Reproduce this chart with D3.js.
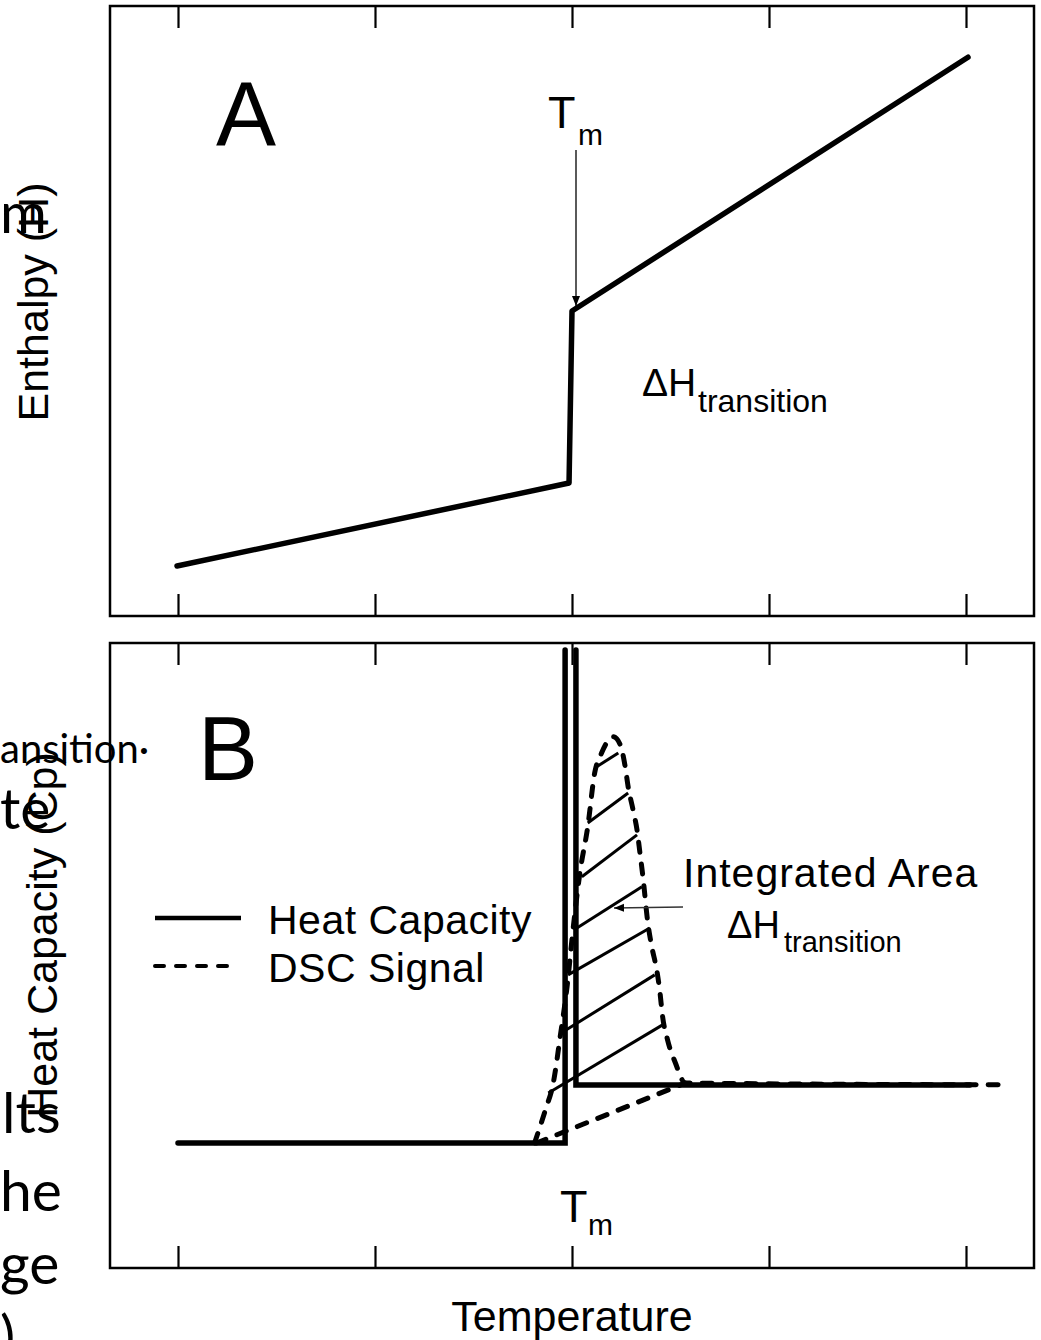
<!DOCTYPE html>
<html>
<head>
<meta charset="utf-8">
<script src="https://cdn.jsdelivr.net/npm/d3@7"></script>
<style>
  body { margin: 0; background: #fff; }
  svg { display: block; }
</style>
</head>
<body>
<div id="chart"></div>
<script>
// Temperature ticks shared by both panels
const tempTicks = [20, 40, 60, 80, 100];
const meltTemp = 60;

// Panel A: enthalpy vs temperature
const enthalpyT = [19.9, 59.7, 60.0, 100.2];
const enthalpyH = [8.2, 21.8, 50.0, 91.6];

// Panel B: heat capacity (two branches of the spike)
const cpLowT = [20.0, 59.3, 59.3];
const cpLowV = [20.0, 20.0, 98.9];
const cpHighT = [60.4, 60.4, 100.4];
const cpHighV = [98.9, 29.3, 29.3];

// Panel B: DSC signal
const dscT = [56.2, 57.3, 58.1, 58.8, 59.5, 60.1, 60.8, 61.6, 62.3, 63.0, 64.2, 64.9, 65.4, 65.7, 66.2, 66.6, 66.9, 67.2, 67.7, 68.1, 68.6, 68.9, 69.2, 69.7, 70.5, 71.5, 103.9];
const dscV = [20.0, 25.3, 29.6, 37.0, 45.0, 54.1, 63.2, 70.6, 79.2, 82.4, 85.0, 83.7, 80.2, 77.0, 73.3, 70.1, 66.4, 62.6, 55.2, 51.4, 47.7, 44.5, 40.2, 36.5, 32.8, 29.6, 29.3];
const dscBaseT = [56.4, 71.5];
const dscBaseV = [20.0, 29.6];

// hatch lines of the integrated area: [t1, v1, t2, v2]
const hatchLines = [
  [62.3, 80.0, 64.7, 82.4],
  [61.6, 71.2, 65.7, 76.0],
  [61.0, 62.6, 66.6, 69.3],
  [60.5, 54.4, 67.1, 61.0],
  [59.6, 46.9, 67.9, 54.4],
  [59.1, 37.8, 68.4, 46.9],
  [57.6, 28.0, 69.2, 38.9]
];

const legendLabels = ["Heat Capacity", "DSC Signal"];

const width = 1041, height = 1340;
const frameLeft = 110, frameRight = 1034;
const font = "'Liberation Sans', Arial, Helvetica, sans-serif";
const bgFont = "Lato, 'Open Sans', sans-serif";

const svg = d3.select("#chart")
  .append("svg")
  .attr("width", width)
  .attr("height", height);

const defs = svg.append("defs");
defs.append("marker")
  .attr("id", "arrowA")
  .attr("viewBox", "0 0 10 10")
  .attr("refX", 10).attr("refY", 5)
  .attr("markerWidth", 10).attr("markerHeight", 10)
  .attr("markerUnits", "userSpaceOnUse")
  .attr("orient", "auto")
  .append("path")
  .attr("d", "M0,1 L10,5 L0,9 Z")
  .attr("fill", "#000");

const x = d3.scaleLinear().domain([20, 100]).range([178, 966]);
const yA = d3.scaleLinear().domain([0, 100]).range([616, 6]);
const yB = d3.scaleLinear().domain([0, 100]).range([1268, 643]);

// Background slide text showing behind the figure
const bgText = [
  { t: "m", x: 0, y: 233 },
  { t: "te", x: 0, y: 829 },
  { t: "lts", x: 2, y: 1133 },
  { t: "he", x: 0, y: 1211 },
  { t: "ge", x: 0, y: 1284 },
  { t: ")", x: 0, y: 1356 }
];
svg.selectAll("text.bg")
  .data(bgText)
  .join("text")
  .attr("class", "bg")
  .attr("x", d => d.x)
  .attr("y", d => d.y)
  .style("font-family", bgFont)
  .style("font-size", "57px")
  .text(d => d.t);
svg.append("text")
  .attr("x", 0).attr("y", 763)
  .style("font-family", bgFont)
  .style("font-size", "40px")
  .text("ansition\u00b7");

// Draw one panel frame with inward ticks
function drawFrame(y) {
  const [bottom, top] = y.range();
  svg.append("rect")
    .attr("x", frameLeft).attr("y", top)
    .attr("width", frameRight - frameLeft)
    .attr("height", bottom - top)
    .attr("fill", "none")
    .attr("stroke", "#000")
    .attr("stroke-width", 2.5);

  const topAxis = svg.append("g")
    .attr("transform", `translate(0,${top})`)
    .call(d3.axisBottom(x).tickValues(tempTicks).tickSize(22).tickFormat(""));
  const bottomAxis = svg.append("g")
    .attr("transform", `translate(0,${bottom})`)
    .call(d3.axisTop(x).tickValues(tempTicks).tickSize(22).tickFormat(""));
  [topAxis, bottomAxis].forEach(g => {
    g.select(".domain").remove();
    g.selectAll("line").attr("stroke", "#000").attr("stroke-width", 2.2);
  });
}
drawFrame(yA);
drawFrame(yB);

// ---- Panel A ----
const lineA = d3.line().x(d => x(d[0])).y(d => yA(d[1]));
svg.append("path")
  .attr("d", lineA(d3.zip(enthalpyT, enthalpyH)))
  .attr("fill", "none")
  .attr("stroke", "#000")
  .attr("stroke-width", 5.5)
  .attr("stroke-linecap", "round")
  .attr("stroke-linejoin", "round");

svg.append("text")
  .attr("x", 216).attr("y", 145)
  .style("font-family", font)
  .style("font-size", "90px")
  .text("A");

// T_m label and arrow
svg.append("text")
  .attr("x", x(meltTemp) - 24).attr("y", 128)
  .style("font-family", font)
  .style("font-size", "45px")
  .text("T");
svg.append("text")
  .attr("x", x(meltTemp) + 6).attr("y", 145)
  .style("font-family", font)
  .style("font-size", "30px")
  .text("m");
svg.append("line")
  .attr("x1", x(meltTemp) + 4).attr("y1", 150)
  .attr("x2", x(meltTemp) + 4).attr("y2", yA(enthalpyH[2]) - 5)
  .attr("stroke", "#000")
  .attr("stroke-width", 1.3)
  .attr("marker-end", "url(#arrowA)");

svg.append("text")
  .attr("x", 642).attr("y", 396)
  .style("font-family", font)
  .style("font-size", "39px")
  .text("\u0394H");
svg.append("text")
  .attr("x", 698).attr("y", 412)
  .style("font-family", font)
  .style("font-size", "32px")
  .text("transition");

svg.append("text")
  .attr("transform", "translate(48,302) rotate(-90)")
  .attr("text-anchor", "middle")
  .style("font-family", font)
  .style("font-size", "43px")
  .text("Enthalpy (H)");

// ---- Panel B ----
const lineB = d3.line().x(d => x(d[0])).y(d => yB(d[1]));

// hatch of the integrated area
svg.selectAll("line.hatch")
  .data(hatchLines)
  .join("line")
  .attr("class", "hatch")
  .attr("x1", d => x(d[0])).attr("y1", d => yB(d[1]))
  .attr("x2", d => x(d[2])).attr("y2", d => yB(d[3]))
  .attr("stroke", "#000")
  .attr("stroke-width", 3);

// DSC signal (dashed)
svg.append("path")
  .attr("d", d3.line().x(d => x(d[0])).y(d => yB(d[1])).curve(d3.curveMonotoneX)(d3.zip(dscT, dscV)))
  .attr("fill", "none")
  .attr("stroke", "#000")
  .attr("stroke-width", 5)
  .attr("stroke-dasharray", "10 12")
  .attr("stroke-linecap", "round");
svg.append("path")
  .attr("d", lineB(d3.zip(dscBaseT, dscBaseV)))
  .attr("fill", "none")
  .attr("stroke", "#000")
  .attr("stroke-width", 5)
  .attr("stroke-dasharray", "10 12")
  .attr("stroke-linecap", "round");

// heat capacity (solid)
[[cpLowT, cpLowV], [cpHighT, cpHighV]].forEach(([t, v]) => {
  svg.append("path")
    .attr("d", lineB(d3.zip(t, v)))
    .attr("fill", "none")
    .attr("stroke", "#000")
    .attr("stroke-width", 5.5)
    .attr("stroke-linecap", "round")
    .attr("stroke-linejoin", "miter");
});

svg.append("text")
  .attr("x", 198).attr("y", 780)
  .style("font-family", font)
  .style("font-size", "90px")
  .text("B");

// legend
const legend = svg.append("g").attr("transform", "translate(155,918)");
const legendItems = legend.selectAll("g")
  .data(legendLabels)
  .join("g")
  .attr("transform", (d, i) => `translate(0,${i * 48})`);
legendItems.append("line")
  .attr("x1", 0).attr("x2", (d, i) => i === 0 ? 86 : 80)
  .attr("stroke", "#000")
  .attr("stroke-width", (d, i) => i === 0 ? 4.5 : 4)
  .attr("stroke-dasharray", (d, i) => i === 0 ? null : "9 12")
  .attr("stroke-linecap", (d, i) => i === 0 ? "butt" : "round");
legendItems.append("text")
  .attr("x", 113).attr("y", 16)
  .style("font-family", font)
  .style("font-size", "41px")
  .style("letter-spacing", "0.5px")
  .text(d => d);

// integrated area annotation
svg.append("text")
  .attr("x", 683).attr("y", 887)
  .style("font-family", font)
  .style("font-size", "41px")
  .style("letter-spacing", "1px")
  .text("Integrated Area");
svg.append("text")
  .attr("x", 727).attr("y", 938)
  .style("font-family", font)
  .style("font-size", "38px")
  .text("\u0394H");
svg.append("text")
  .attr("x", 784).attr("y", 952)
  .style("font-family", font)
  .style("font-size", "29px")
  .text("transition");
svg.append("line")
  .attr("x1", 683).attr("y1", 907)
  .attr("x2", 614).attr("y2", 908)
  .attr("stroke", "#333")
  .attr("stroke-width", 1.3)
  .attr("marker-end", "url(#arrowA)");

// T_m under the spike
svg.append("text")
  .attr("x", x(meltTemp) - 12).attr("y", 1222)
  .style("font-family", font)
  .style("font-size", "45px")
  .text("T");
svg.append("text")
  .attr("x", x(meltTemp) + 16).attr("y", 1235)
  .style("font-family", font)
  .style("font-size", "30px")
  .text("m");

svg.append("text")
  .attr("transform", "translate(57,935) rotate(-90)")
  .attr("text-anchor", "middle")
  .style("font-family", font)
  .style("font-size", "43px")
  .text("Heat Capacity (Cp)");

svg.append("text")
  .attr("x", x(meltTemp)).attr("y", 1331)
  .attr("text-anchor", "middle")
  .style("font-family", font)
  .style("font-size", "43px")
  .text("Temperature");
</script>
</body>
</html>
